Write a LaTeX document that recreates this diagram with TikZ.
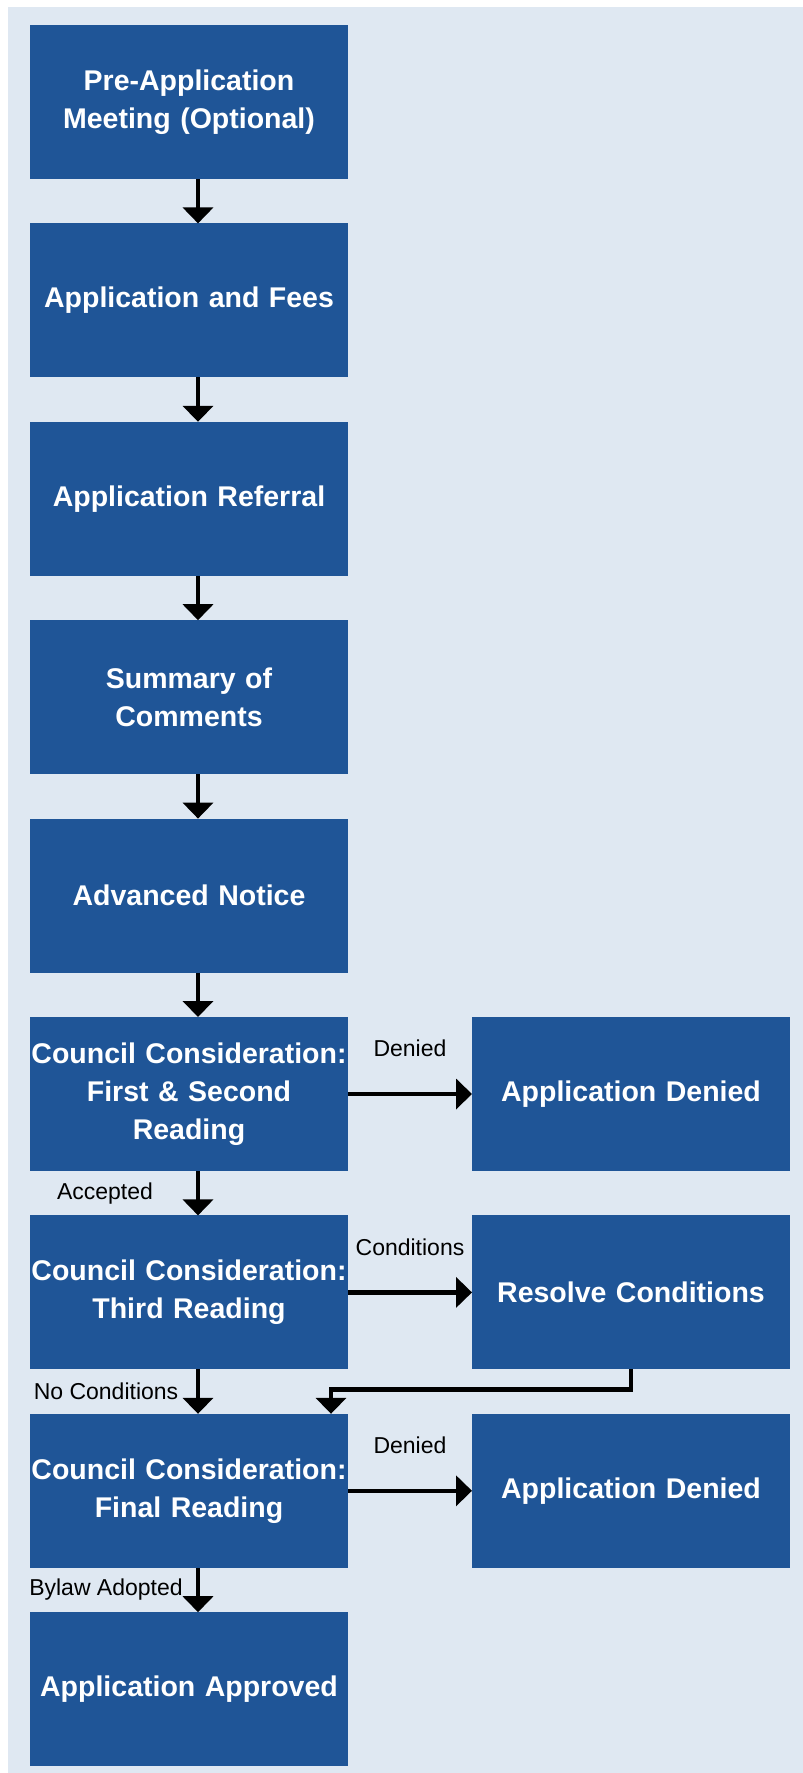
\documentclass[tikz,border=0pt]{standalone}
\usepackage{fontspec}
\setmainfont{Liberation Sans}
\usepackage{tikz}
\usetikzlibrary{
	positioning,
	arrows.meta,
	calc
}
\definecolor{stageblue}{RGB}{31,85,151}
\definecolor{pagebg}{RGB}{223,232,242}

\begin{document}
\begin{tikzpicture}[
		node distance=44.4pt and 124pt,
		stage/.style={fill=stageblue, text=white, text width=318pt, minimum height=154pt,
			inner sep=0pt, outer sep=0pt, align=center,
			font=\bfseries\fontsize{28.5}{38}\selectfont},
		flow/.style={line width=4.5pt, -{Triangle[width=30pt,length=16pt]}},
		lbl/.style={font=\fontsize{23}{26}\selectfont, inner sep=0pt}
	]
		\useasboundingbox (0,0) rectangle (803pt,-1773pt);
		\fill[pagebg] (8pt,-7pt) rectangle (803pt,-1773pt);

		\node[stage] (pre) at (189pt,-102pt) {Pre-Application\\Meeting (Optional)};
		\node[stage, below=of pre] (fees) {Application and Fees};
		\node[stage, below=of fees] (referral) {Application Referral};
		\node[stage, below=of referral] (summary) {Summary of\\Comments};
		\node[stage, below=of summary] (notice) {Advanced Notice};
		\node[stage, below=of notice] (first) {Council Consideration:\\First \& Second\\Reading};
		\node[stage, below=of first] (third) {Council Consideration:\\Third Reading};
		\node[stage, below=of third] (final) {Council Consideration:\\Final Reading};
		\node[stage, below=of final] (approved) {Application Approved};

		\node[stage, right=of first] (deniedA) {Application Denied};
		\node[stage, right=of third] (resolve) {Resolve Conditions};
		\node[stage, right=of final] (deniedB) {Application Denied};

		\draw[flow] ([xshift=9pt]pre.south) -- ([xshift=9pt]fees.north);
		\draw[flow] ([xshift=9pt]fees.south) -- ([xshift=9pt]referral.north);
		\draw[flow] ([xshift=9pt]referral.south) -- ([xshift=9pt]summary.north);
		\draw[flow] ([xshift=9pt]summary.south) -- ([xshift=9pt]notice.north);
		\draw[flow] ([xshift=9pt]notice.south) -- ([xshift=9pt]first.north);
		\draw[flow] ([xshift=9pt]first.south) -- ([xshift=9pt]third.north);
		\draw[flow] ([xshift=9pt]third.south) -- ([xshift=9pt]final.north);
		\draw[flow] ([xshift=9pt]final.south) -- ([xshift=9pt]approved.north);

		\draw[flow] (first.east) -- (deniedA.west);
		\draw[flow] (third.east) -- (resolve.west);
		\draw[flow] (final.east) -- (deniedB.west);
		\draw[flow] (resolve.south) -- ++(0,-20pt) -| ([xshift=142pt]final.north);

		\node[lbl] (lblDeniedA) at ($(first.east)!0.5!(deniedA.west)+(0,46pt)$) {Denied};
		\node[lbl] (lblConditions) at ($(third.east)!0.5!(resolve.west)+(0,45pt)$) {Conditions};
		\node[lbl] (lblDeniedB) at ($(final.east)!0.5!(deniedB.west)+(0,46pt)$) {Denied};
		\node[lbl] (lblAccepted) at ($(first.south)!0.5!(third.north)+(-84pt,0)$) {Accepted};
		\node[lbl] (lblNoCond) at ($(third.south)!0.5!(final.north)+(-83pt,0)$) {No Conditions};
		\node[lbl] (lblBylaw) at ($(final.south)!0.5!(approved.north)+(-83pt,0)$) {Bylaw Adopted};
\end{tikzpicture}
\end{document}
